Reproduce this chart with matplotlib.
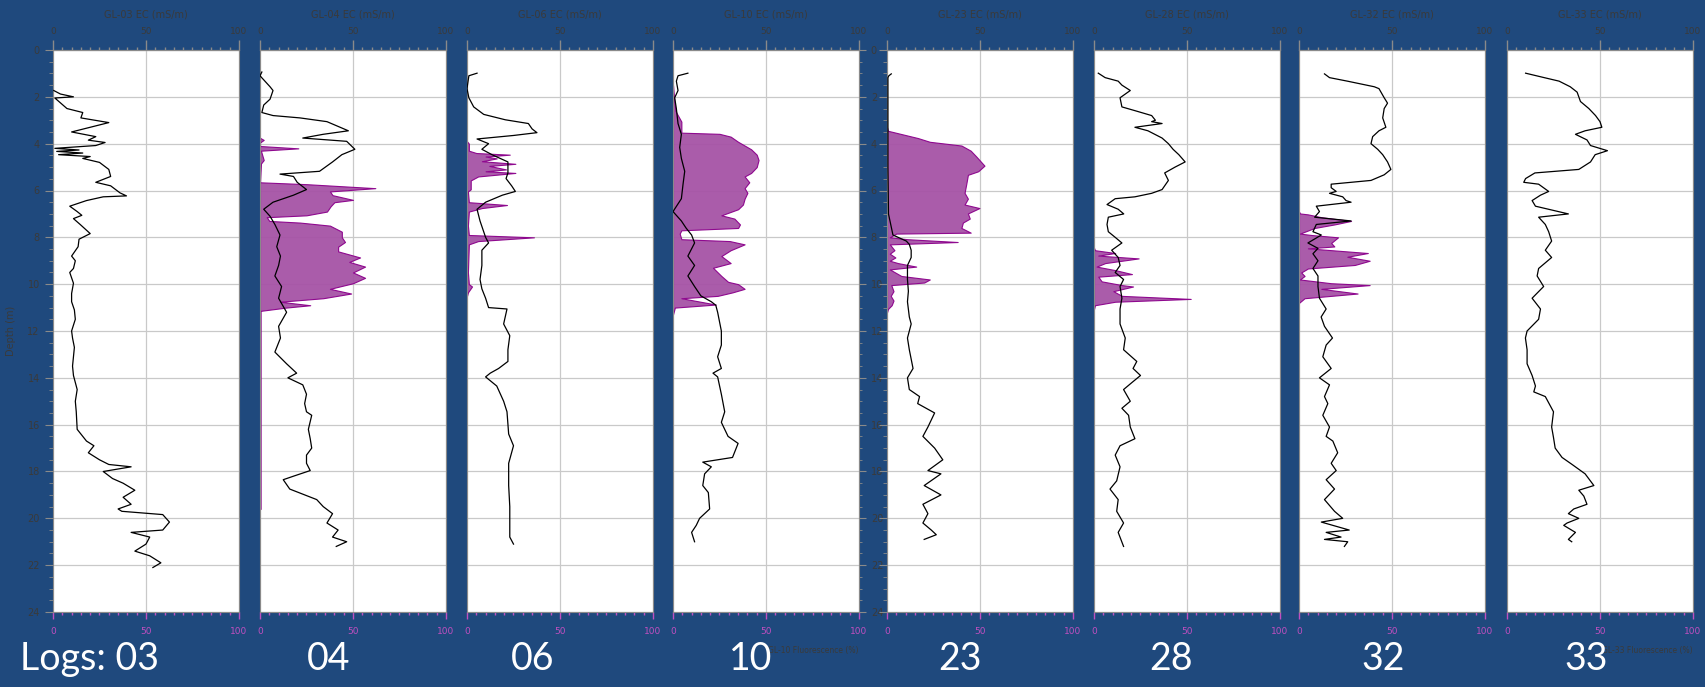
import matplotlib
matplotlib.use("Agg")
import matplotlib.pyplot as plt
from matplotlib.ticker import MultipleLocator, FixedLocator

# ---------------- data ----------------
log_ids = ["03", "04", "06", "10", "23", "28", "32", "33"]
ec_titles = [f"GL-{i} EC (mS/m)" for i in log_ids]
fl_titles = [f"GL-{i} Fluorescence (%)" for i in log_ids]

ec_03 = [(1.73,0.4),(1.88,4),(2.0,11),(2.05,1),(2.5,7.5),(2.67,16),(2.9,15),(3.1,30),(3.3,20),(3.5,10),(3.7,23),(3.85,19),(3.95,28),(4.08,23),(4.2,1),(4.27,14),(4.33,2),(4.4,16),(4.47,3),(4.55,20),(4.63,16),(4.8,25),(5.1,30),(5.4,31),(5.65,23),(5.8,31),(6.1,36),(6.23,39.5),(6.27,27),(6.43,18),(6.67,9),(6.9,13),(7.06,15.5),(7.2,11),(7.45,14.6),(7.84,20),(8.08,14),(8.4,13.5),(8.8,10),(9.0,12),(9.33,11),(9.5,9),(9.96,11),(10.4,10),(10.75,10),(11.1,11.5),(11.5,12),(12.0,10),(12.3,10.5),(12.7,11.5),(13.1,11),(13.5,10.5),(13.9,11),(14.5,13),(15.0,12),(15.45,12.5),(16.2,13),(16.7,18),(16.9,22),(17.2,19),(17.5,25),(17.7,30),(17.8,42),(18.0,27),(18.3,32),(18.5,37.7),(18.8,44),(19.1,37.7),(19.4,42),(19.6,35),(19.7,37),(19.84,59),(20.16,62.6),(20.5,59),(20.6,42),(20.8,52),(21.1,50),(21.4,44),(21.6,52),(21.9,58),(22.1,53.7)]
ec_04 = [(0.94,1),(1.1,0),(1.57,5.4),(1.73,7),(2.1,5.4),(2.35,2),(2.67,1),(2.8,7),(2.9,21.5),(3.06,36),(3.45,47.5),(3.6,34),(3.76,23),(3.9,46.6),(4.24,51),(4.47,44),(4.78,39),(5.18,32),(5.3,10.75),(5.4,18),(5.65,20),(5.96,25),(6.2,18),(6.5,7),(6.8,2),(7.1,5.4),(7.45,8),(7.9,10.75),(8.4,9),(8.8,11),(9.2,10),(9.65,8),(10.1,11.6),(10.6,10),(11.2,14.3),(11.8,10),(12.3,11),(12.9,8),(13.4,14.3),(13.8,19.7),(14.0,15),(14.3,23),(14.7,25),(15.1,24),(15.45,25),(15.6,27.8),(16.2,26),(16.6,27),(17.0,27.8),(17.3,25),(17.65,25),(17.96,27),(18.2,18),(18.35,12.5),(18.75,16),(19.2,30.5),(19.5,34),(19.8,39),(20.2,36),(20.5,42),(20.8,39),(21.0,46.6),(21.2,41)]
ec_06 = [(0.99,5.4),(1.1,1),(1.65,0),(2.04,1),(2.43,3.6),(2.75,9),(2.98,20.6),(3.14,33),(3.37,35),(3.53,37.6),(3.65,25),(3.8,5.4),(4.0,11.6),(4.24,8),(4.47,13.4),(4.78,22),(5.25,22),(5.49,21),(5.8,24),(6.04,26),(6.2,19),(6.5,10),(6.8,5.4),(7.3,7),(8.0,10),(8.24,11.6),(8.55,8),(9.2,8),(9.8,7),(10.2,8),(10.6,10),(11.0,11.6),(11.06,21.5),(11.7,19.7),(12.2,23),(12.8,22),(13.3,22),(13.6,17),(13.8,12.5),(13.96,10),(14.35,16),(15.0,19.7),(15.45,21.5),(16.4,22.4),(16.9,25),(17.65,22.4),(18.6,22.4),(19.5,23),(20.2,23),(20.8,23),(21.1,25)]
ec_10 = [(0.99,8),(1.1,2.7),(1.33,1.8),(1.73,2.7),(2.04,0.9),(2.5,1.8),(3.14,2.7),(3.6,4.5),(4.16,3.6),(4.63,4.5),(5.18,6.3),(5.73,5.4),(6.35,4.5),(6.9,0),(7.3,4.5),(7.6,7),(7.9,10),(8.24,11.6),(8.8,8),(9.2,11.6),(9.65,8),(10.1,11.6),(10.5,15),(10.75,20.6),(10.9,23),(11.2,24),(12.0,26),(12.6,26),(13.1,24),(13.6,26),(13.8,21.5),(13.96,24),(14.7,26),(15.45,27.8),(15.9,26),(16.5,29.6),(16.8,35),(17.0,34),(17.4,32),(17.6,16),(17.8,20.6),(18.1,17),(18.6,16),(18.9,19),(19.6,19.7),(20.0,14.3),(20.3,12.5),(20.6,10),(21.0,11.6)]
ec_23 = [(1.02,2.3),(1.1,1),(1.18,0.5),(3.0,0.5),(5.0,0.5),(7.0,0.8),(7.9,3.2),(8.16,10.4),(8.3,12),(8.55,13),(8.86,13),(9.2,11),(9.8,11),(10.3,11.5),(10.75,11),(11.4,12),(11.7,13),(12.3,11),(12.8,12),(13.6,14),(14.0,11),(14.5,12),(14.8,17.5),(15.1,16.5),(15.5,25.6),(16.1,22),(16.5,19.3),(17.0,25.6),(17.5,30),(17.96,22),(18.1,29),(18.6,20),(19.0,29),(19.4,19.3),(19.8,22),(20.2,19.3),(20.5,23.8),(20.7,26.5),(20.9,20)]
ec_28 = [(0.99,2.3),(1.18,6),(1.33,13),(1.5,15),(1.73,19.5),(2.04,14),(2.43,15),(2.59,22),(2.8,31),(3.0,33),(3.06,31),(3.14,36.6),(3.3,22),(3.45,29),(3.76,36.6),(4.0,40),(4.24,42.5),(4.47,45.6),(4.78,49),(5.0,43.6),(5.25,38),(5.57,40),(5.96,36.6),(6.12,31),(6.27,22),(6.35,11.4),(6.6,7),(6.8,13),(7.0,16),(7.14,7.7),(7.45,7),(7.76,7.7),(8.0,11.4),(8.24,15),(8.55,9.5),(8.86,13),(9.2,14),(9.5,11.4),(9.8,15.9),(10.1,14),(10.6,15),(11.06,14),(11.7,14),(12.3,16.8),(12.8,15.9),(13.3,23),(13.6,21),(13.9,25),(14.2,20.4),(14.5,15.9),(15.0,19.5),(15.3,15),(15.6,18.6),(16.1,19.5),(16.6,22),(16.9,14),(17.3,11.4),(17.8,14),(18.4,12.2),(18.75,8.6),(19.2,13),(19.7,12.2),(20.2,15.9),(20.6,13),(21.2,15.9)]
ec_32 = [(1.02,13.7),(1.18,16.4),(1.33,26),(1.57,40.5),(1.65,43),(2.04,45.8),(2.27,47.6),(2.5,45.8),(2.9,45),(3.3,46.7),(3.45,43),(3.7,39.6),(4.0,38.7),(4.24,42.3),(4.47,45),(4.78,47.6),(5.1,49.4),(5.33,45.8),(5.57,38.7),(5.65,28),(5.73,17.3),(5.88,17.3),(6.04,20),(6.12,16.4),(6.27,23.5),(6.43,25.3),(6.5,28),(6.67,9.3),(6.9,11),(7.14,8.4),(7.3,28),(7.45,9.3),(7.76,7.5),(7.9,12),(8.24,4.8),(8.47,10.2),(8.7,7.5),(9.0,10.2),(9.33,7.5),(9.65,10.2),(10.1,10.2),(10.6,11),(11.06,14.6),(11.4,11.9),(11.8,13.7),(12.3,18),(12.6,14.6),(13.1,12.8),(13.6,17.3),(14.0,11),(14.3,16.4),(14.8,13.7),(15.1,15.5),(15.6,12.8),(16.1,16.4),(16.5,14.6),(16.7,18.2),(17.2,20.8),(17.65,17.3),(17.96,20),(18.35,14.6),(18.75,19.1),(19.2,13.7),(19.7,19.1),(20.0,23.5),(20.16,12),(20.5,27),(20.6,14.6),(20.8,22.6),(20.9,13.7),(21.0,26.2),(21.2,24.4)]
ec_33 = [(0.99,10),(1.18,20),(1.33,28),(1.57,34),(1.8,37.7),(2.2,39.5),(2.5,44),(2.8,47.6),(3.06,50),(3.3,51),(3.45,42),(3.6,36.8),(3.84,43),(4.08,44.9),(4.3,54),(4.47,47.4),(4.78,44.9),(5.1,38.6),(5.25,15),(5.49,10),(5.65,9),(5.73,17),(6.04,22.4),(6.2,18),(6.43,13.5),(6.67,15.3),(7.0,33),(7.14,17),(7.45,20.6),(7.76,22.4),(8.16,24),(8.55,20.6),(8.86,24),(9.33,17),(9.65,16.2),(10.1,19.7),(10.6,13.5),(11.06,18),(11.5,17),(12.0,10.8),(12.3,9.9),(12.8,10.8),(13.4,10.8),(13.9,13.5),(14.35,15.3),(14.6,14.4),(14.8,20.6),(15.45,25),(16.1,24),(16.55,25),(17.0,25.9),(17.4,29.6),(17.7,35),(18.1,42),(18.6,46.7),(18.8,38.6),(19.05,41.3),(19.4,43),(19.6,35.9),(19.8,33),(20.0,38.6),(20.2,32.3),(20.3,30.5),(20.6,36.8),(20.9,33),(21.0,34.8)]

fl_04 = [(3.75,0),(3.84,2),(3.95,0),(4.1,0),(4.2,20.6),(4.3,0.5),(4.7,2),(4.85,0.5),(5.65,0),(5.73,25),(5.9,62),(6.04,37.6),(6.2,39),(6.4,50),(6.5,40),(6.67,38),(6.9,36),(7.06,25),(7.14,3.6),(7.3,5),(7.37,21.5),(7.5,37.6),(7.76,44),(8.0,44),(8.2,45.7),(8.4,42),(8.6,42),(8.86,53.8),(9.05,48),(9.25,56.5),(9.5,50),(9.73,56.5),(9.96,50),(10.2,37.6),(10.4,49),(10.6,34),(10.75,10.75),(10.9,27),(11.0,14),(11.14,0.3),(19.6,0.3)]
fl_06 = [(3.9,0),(4.0,1),(4.3,1),(4.4,5),(4.47,23),(4.55,10),(4.63,16),(4.75,8),(4.86,26),(4.95,12),(5.1,21),(5.18,10),(5.25,26),(5.4,6),(5.57,2),(5.95,2),(6.04,0.5),(6.5,1),(6.62,21.5),(6.75,8),(6.9,1),(7.5,0.5),(7.9,1),(8.0,36),(8.16,6),(8.3,1),(9.5,0.5),(10.0,1),(10.1,2.7),(10.35,0.5),(10.5,0)]
fl_10 = [(1.5,0),(2.0,0.5),(2.6,1.3),(3.06,4.5),(3.53,4.5),(3.58,25),(3.7,31),(3.92,35),(4.24,42),(4.47,45),(4.7,46),(5.0,45),(5.25,42),(5.4,38.5),(5.65,41),(5.9,38.5),(6.1,40),(6.35,38.5),(6.6,37.6),(6.8,35),(7.06,26),(7.2,33),(7.45,36),(7.6,35),(7.7,4.5),(7.84,3.6),(8.08,4.5),(8.16,30.5),(8.3,38.5),(8.55,31),(8.8,26),(9.1,31),(9.3,21.5),(9.65,26),(9.9,29.6),(10.0,35),(10.2,38.5),(10.35,32),(10.5,24),(10.6,4.5),(10.87,23),(11.0,1),(11.3,0)]
fl_23 = [(3.3,0),(3.45,0.5),(3.76,16.6),(3.92,23),(4.08,40),(4.3,45),(4.55,48),(4.94,52.4),(5.18,49),(5.33,43.5),(5.73,42.6),(6.1,41.7),(6.35,43.5),(6.6,41.7),(6.75,49.7),(6.98,43.5),(7.2,44.5),(7.37,40.8),(7.6,40),(7.8,45),(7.84,5),(8.0,1.5),(8.08,11),(8.2,38),(8.3,1.5),(8.55,4),(8.7,1.5),(8.86,4.5),(9.0,1.5),(9.1,5.9),(9.25,15.7),(9.37,1.5),(9.65,7.7),(9.8,23),(9.93,20),(10.04,2.3),(10.3,3.5),(10.5,2),(10.7,3.5),(10.9,2.5),(11.06,0.5),(11.2,0)]
fl_28 = [(8.45,0),(8.55,0.5),(8.67,11.4),(8.78,2.3),(8.9,24),(9.1,6),(9.25,1.4),(9.4,11.4),(9.57,20.4),(9.68,2.3),(9.88,4.1),(10.04,15),(10.1,21),(10.3,10.4),(10.5,15),(10.63,52),(10.75,11.4),(10.9,0.5),(11.06,0)]
fl_32 = [(6.9,0),(6.98,0.5),(7.02,4.8),(7.14,12),(7.3,28),(7.45,19),(7.6,8.4),(7.84,0.5),(7.9,6.6),(8.0,21),(8.24,17.3),(8.39,19),(8.47,4.8),(8.67,37),(8.83,26),(9.0,38),(9.18,30),(9.33,4.8),(9.5,1.2),(9.65,3),(9.8,0.5),(9.96,17.3),(10.04,38),(10.2,12),(10.4,31.5),(10.6,3),(10.8,0)]

ec_data = [ec_03, ec_04, ec_06, ec_10, ec_23, ec_28, ec_32, ec_33]
fl_data = [None, fl_04, fl_06, fl_10, fl_23, fl_28, fl_32, None]

panel_left_px = [53, 260, 467, 673, 887, 1094, 1299, 1507]
label_x_px = [20, 329, 533, 751, 960, 1171, 1383, 1586]
big_labels = ["Logs: 03", "04", "06", "10", "23", "28", "32", "33"]

# ---------------- style ----------------
W, H = 1706, 687
BG = "#1F497D"
GRID = "#C9C9C9"
SPINE = "#8A8A8A"
DARKTXT = "#3A3A3A"
MAG = "#C04FC0"
FILL = "#A653A6"
EDGE = "#8B008B"

fig = plt.figure(figsize=(W / 100, H / 100), dpi=100)
fig.patch.set_facecolor(BG)

top_px, bot_px, pw = 50, 612, 186

for i in range(8):
    x0 = panel_left_px[i]
    ax = fig.add_axes([x0 / W, (H - bot_px) / H, pw / W, (bot_px - top_px) / H])
    ax.set_facecolor("white")
    ax.set_xlim(0, 100)
    ax.set_ylim(24, 0)
    for s in ax.spines.values():
        s.set_color(SPINE)
        s.set_linewidth(0.8)
    ax.xaxis.set_major_locator(FixedLocator([0, 50, 100]))
    ax.xaxis.set_minor_locator(MultipleLocator(5))
    ax.yaxis.set_major_locator(MultipleLocator(2))
    ax.yaxis.set_minor_locator(MultipleLocator(0.5))
    ax.grid(True, which="major", color=GRID, lw=0.9)
    ax.set_axisbelow(True)

    # bottom (fluorescence) axis
    ax.tick_params(axis="x", which="major", bottom=True, top=False, direction="out",
                   length=5, width=1, color=MAG, labelcolor=MAG, labelsize=6.5, pad=6)
    ax.tick_params(axis="x", which="minor", bottom=True, top=False, direction="out",
                   length=2.5, width=1, color=MAG)

    # y axis
    if i == 0:
        ax.tick_params(axis="y", which="major", left=True, direction="out", length=6,
                       color=SPINE, labelcolor=DARKTXT, labelsize=7)
        ax.tick_params(axis="y", which="minor", left=True, direction="out", length=3, color=SPINE)
        ax.set_ylabel("Depth (m)", color=DARKTXT, fontsize=7, labelpad=8)
    elif i == 3:
        ax.yaxis.tick_right()
        ax.tick_params(axis="y", which="major", right=True, left=False, direction="out",
                       length=5, color=SPINE, labelcolor=DARKTXT, labelsize=7)
        ax.tick_params(axis="y", which="minor", right=True, left=False, direction="out",
                       length=2.5, color=SPINE)
    elif i == 4:
        ax.tick_params(axis="y", which="major", left=True, direction="out", length=6,
                       color=SPINE, labelleft=False)
        ax.tick_params(axis="y", which="minor", left=True, direction="out", length=3, color=SPINE)
    else:
        ax.tick_params(axis="y", which="both", left=False, right=False,
                       labelleft=False, labelright=False)

    # top (EC) axis
    sec = ax.secondary_xaxis("top")
    sec.xaxis.set_major_locator(FixedLocator([0, 50, 100]))
    sec.xaxis.set_minor_locator(MultipleLocator(5))
    sec.tick_params(axis="x", which="major", direction="out", length=7, width=1,
                    color=SPINE, labelcolor=DARKTXT, labelsize=6.5, pad=3)
    sec.tick_params(axis="x", which="minor", direction="out", length=2.5, width=1, color=SPINE)
    sec.spines["top"].set_color(SPINE)
    sec.set_xlabel(ec_titles[i], color=DARKTXT, fontsize=7, labelpad=7)

    # fluorescence
    fl = fl_data[i]
    if fl is not None:
        fd = [p[0] for p in fl]
        fv = [p[1] for p in fl]
        ax.fill_betweenx(fd, 0, fv, facecolor=FILL, edgecolor=EDGE, linewidth=0.8, alpha=0.95, zorder=2)

    # EC line
    ec = ec_data[i]
    ed = [p[0] for p in ec]
    ev = [p[1] for p in ec]
    ax.plot(ev, ed, color="black", lw=0.9, zorder=3)

    if i in (3, 7):
        fig.text((x0 + pw) / W, (H - 650) / H, fl_titles[i], color=DARKTXT,
                 fontsize=5.5, ha="right", va="center")

for i, lab in enumerate(big_labels):
    fig.text(label_x_px[i] / W, (H - 659) / H, lab, color="white", fontsize=27,
             family=["Lato", "DejaVu Sans"], ha="left" if i == 0 else "center", va="center")

fig.savefig("out.png", dpi=100, facecolor=BG)
